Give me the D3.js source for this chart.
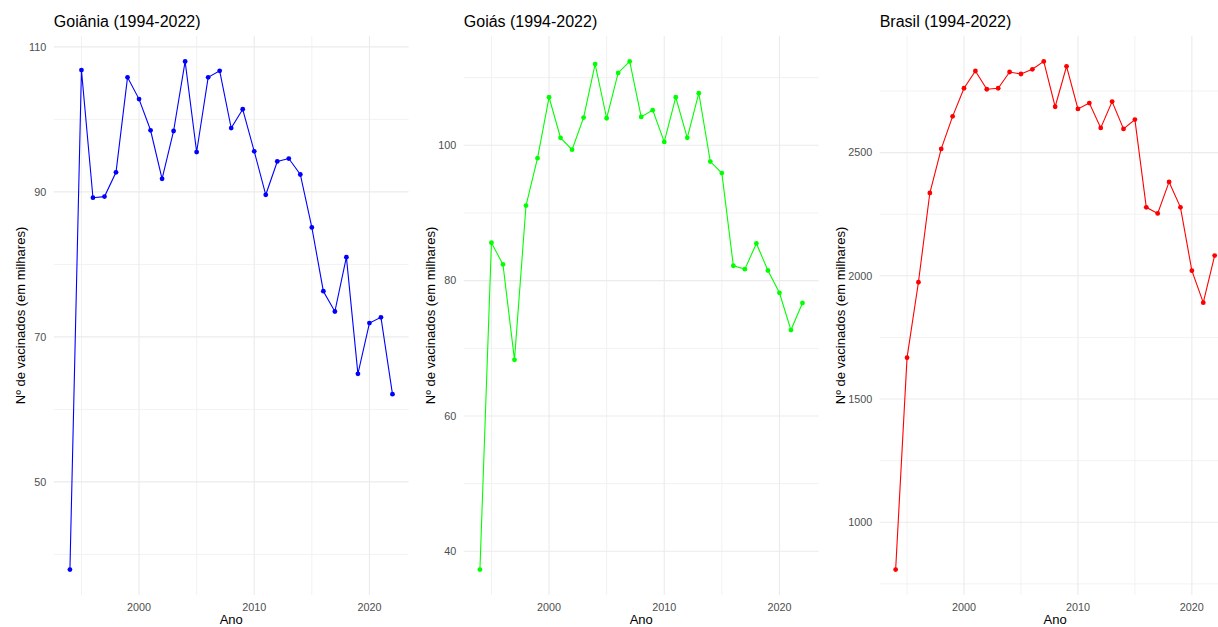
<!DOCTYPE html>
<html>
<head>
<meta charset="utf-8">
<script src="https://cdn.jsdelivr.net/npm/d3@7"></script>
<style>
  body { margin: 0; background: #fff; }
  svg { display: block; font-family: "Liberation Sans", Arial, sans-serif; }
</style>
</head>
<body>
<div id="chart"></div>
<script>
const years = d3.range(1994, 2023);

const goiania = [37.9, 106.8, 89.2, 89.35, 92.7, 105.8, 102.8, 98.5, 91.8, 98.4,
  108.0, 95.5, 105.8, 106.7, 98.8, 101.4, 95.6, 89.6, 94.2, 94.6,
  92.4, 85.1, 76.3, 73.5, 81.0, 64.9, 71.9, 72.7, 62.1];

const goias = [37.3, 85.6, 82.4, 68.3, 91.1, 98.1, 107.1, 101.1, 99.35, 104.1,
  112.0, 104.0, 110.7, 112.4, 104.2, 105.2, 100.5, 107.1, 101.1, 107.7,
  97.6, 95.9, 82.2, 81.7, 85.5, 81.5, 78.2, 72.7, 76.7];

const brasil = [808, 1668, 1974, 2336, 2515, 2647, 2761, 2831, 2757, 2761,
  2827, 2819, 2838, 2870, 2686, 2850, 2677, 2701, 2600, 2707,
  2596, 2634, 2278, 2253, 2381, 2278, 2021, 1891, 2082];

const xTicks = [2000, 2010, 2020];
const xMinor = [1995, 2005, 2015];
const goianiaTicks = [50, 70, 90, 110];
const goianiaMinor = [40, 60, 80, 100];
const goiasTicks = [40, 60, 80, 100];
const goiasMinor = [50, 70, 90, 110];
const brasilTicks = [1000, 1500, 2000, 2500];
const brasilMinor = [750, 1250, 1750, 2250, 2750];

const titles = ["Goiânia (1994-2022)", "Goiás (1994-2022)", "Brasil (1994-2022)"];
const yLabel = "Nº de vacinados (em milhares)";
const xLabel = "Ano";

const W = 1218, H = 627;
const panelTop = 36, panelBottom = 595;

const panels = [
  { title: titles[0], values: goiania, color: "#0000ff", left: 53.8, right: 408.6, yTitleX: 25, ticks: goianiaTicks, minor: goianiaMinor },
  { title: titles[1], values: goias, color: "#00ff00", left: 463.8, right: 818.6, yTitleX: 435, ticks: goiasTicks, minor: goiasMinor },
  { title: titles[2], values: brasil, color: "#ff0000", left: 879.7, right: 1230.6, yTitleX: 845, ticks: brasilTicks, minor: brasilMinor }
];

const svg = d3.select("#chart").append("svg")
  .attr("width", W).attr("height", H);

// ggplot-like 5% expansion
function expand(ext) {
  const pad = (ext[1] - ext[0]) * 0.05;
  return [ext[0] - pad, ext[1] + pad];
}

panels.forEach((p) => {
  const x = d3.scaleLinear().domain(expand(d3.extent(years))).range([p.left, p.right]);
  const y = d3.scaleLinear().domain(expand(d3.extent(p.values))).range([panelBottom, panelTop]);
  const g = svg.append("g");

  // grid
  g.selectAll("line.ymin").data(p.minor).enter().append("line")
    .attr("x1", p.left).attr("x2", p.right)
    .attr("y1", (d) => y(d)).attr("y2", (d) => y(d))
    .attr("stroke", "#f2f2f2").attr("stroke-width", 1);
  g.selectAll("line.xmin").data(xMinor).enter().append("line")
    .attr("x1", (d) => x(d)).attr("x2", (d) => x(d))
    .attr("y1", panelTop).attr("y2", panelBottom)
    .attr("stroke", "#f2f2f2").attr("stroke-width", 1);
  g.selectAll("line.ymaj").data(p.ticks).enter().append("line")
    .attr("x1", p.left).attr("x2", p.right)
    .attr("y1", (d) => y(d)).attr("y2", (d) => y(d))
    .attr("stroke", "#ebebeb").attr("stroke-width", 1.1);
  g.selectAll("line.xmaj").data(xTicks).enter().append("line")
    .attr("x1", (d) => x(d)).attr("x2", (d) => x(d))
    .attr("y1", panelTop).attr("y2", panelBottom)
    .attr("stroke", "#ebebeb").attr("stroke-width", 1.1);

  // tick labels
  g.selectAll("text.ytick").data(p.ticks).enter().append("text")
    .attr("x", p.left - 7.5).attr("y", (d) => y(d) + 3.8)
    .attr("text-anchor", "end").attr("font-size", 10.8).attr("fill", "#4d4d4d")
    .text((d) => d);
  g.selectAll("text.xtick").data(xTicks).enter().append("text")
    .attr("x", (d) => x(d)).attr("y", 611)
    .attr("text-anchor", "middle").attr("font-size", 10.8).attr("fill", "#4d4d4d")
    .text((d) => d);

  // axis titles
  g.append("text")
    .attr("x", (p.left + p.right) / 2).attr("y", 624)
    .attr("text-anchor", "middle").attr("font-size", 13).attr("fill", "#000")
    .text(xLabel);
  g.append("text")
    .attr("transform", "translate(" + p.yTitleX + "," + ((panelTop + panelBottom) / 2) + ") rotate(-90)")
    .attr("text-anchor", "middle").attr("font-size", 13).attr("fill", "#000")
    .text(yLabel);

  g.append("text")
    .attr("x", p.left).attr("y", 27)
    .attr("font-size", 16).attr("fill", "#000")
    .text(p.title);

  // series
  const pts = years.map((yr, i) => [yr, p.values[i]]);
  g.append("path").datum(pts)
    .attr("fill", "none").attr("stroke", p.color).attr("stroke-width", 1.1)
    .attr("d", d3.line().x((d) => x(d[0])).y((d) => y(d[1])));
  g.selectAll("circle").data(pts).enter().append("circle")
    .attr("cx", (d) => x(d[0])).attr("cy", (d) => y(d[1]))
    .attr("r", 2.4).attr("fill", p.color);
});
</script>
</body>
</html>
